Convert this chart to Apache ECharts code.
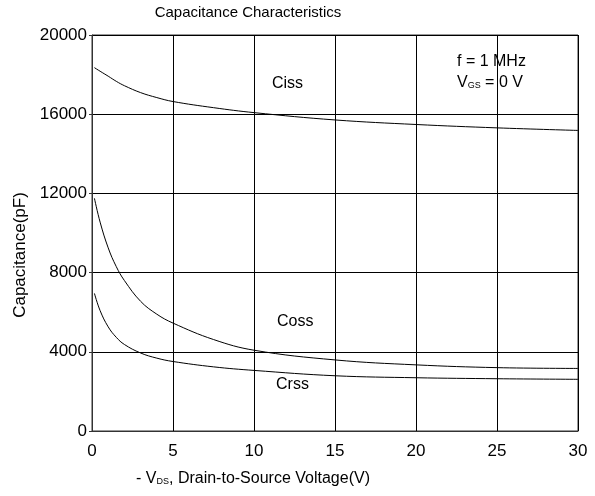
<!DOCTYPE html>
<html>
<head>
<meta charset="utf-8">
<script src="https://cdn.jsdelivr.net/npm/echarts@6/dist/echarts.min.js"></script>
<style>html,body{margin:0;padding:0;background:#fff;}#c{width:595px;height:496px;}</style>
</head>
<body>
<div id="c"></div>
<script>
// Data
const vds  = [0.15, 0.5, 1, 1.5, 2, 3, 4, 5, 7.5, 10, 15, 20, 25, 30];
const ciss = [18350, 18170, 17920, 17660, 17440, 17090, 16840, 16640, 16330, 16080, 15710, 15480, 15310, 15180];
const coss = [11750, 10550, 9250, 8300, 7600, 6550, 5900, 5450, 4620, 4080, 3590, 3340, 3200, 3160];
const crss = [6950, 6080, 5260, 4730, 4370, 3940, 3680, 3510, 3240, 3060, 2790, 2690, 2640, 2610];
const xTicks = [0, 5, 10, 15, 20, 25, 30];
const yTicks = [0, 4000, 8000, 12000, 16000, 20000];

const FONT = 'Liberation Sans';
const chart = echarts.init(document.getElementById('c'), null, {renderer: 'canvas'});
const mk = (name, ys) => ({
  name, type: 'line', smooth: 0.4, symbol: 'none',
  data: vds.map((x, i) => [x, ys[i]]),
  lineStyle: {color: '#000', width: 1}
});
chart.setOption({
  animation: false,
  backgroundColor: '#fff',
  grid: {left: 92, right: 17, top: 35, bottom: 65, show: true, borderColor: '#333', borderWidth: 1},
  xAxis: {
    type: 'value', min: xTicks[0], max: xTicks[xTicks.length - 1], interval: xTicks[1] - xTicks[0],
    axisLine: {show: true, lineStyle: {color: '#333', width: 1}},
    axisTick: {show: false},
    axisLabel: {color: '#000', fontFamily: FONT, fontSize: 17, margin: 12},
    splitLine: {show: true, lineStyle: {color: '#000', width: 1}}
  },
  yAxis: {
    type: 'value', min: yTicks[0], max: yTicks[yTicks.length - 1], interval: yTicks[1] - yTicks[0],
    axisLine: {show: true, lineStyle: {color: '#333', width: 1}},
    axisTick: {show: true, length: 3, lineStyle: {color: '#333'}},
    axisLabel: {color: '#000', fontFamily: FONT, fontSize: 17, margin: 5, formatter: v => String(v)},
    splitLine: {show: true, lineStyle: {color: '#000', width: 1}}
  },
  series: [mk('Ciss', ciss), mk('Coss', coss), mk('Crss', crss)],
  graphic: [
    {type: 'text', x: 248, y: 13, style: {text: 'Capacitance Characteristics', align: 'center', verticalAlign: 'middle', font: '15px ' + FONT, fill: '#000'}},
    {type: 'text', x: 20, y: 255, rotation: Math.PI / 2, style: {text: 'Capacitance(pF)', align: 'center', verticalAlign: 'middle', font: '17px ' + FONT, fill: '#000'}},
    {type: 'text', x: 253, y: 479, style: {
      text: '{n|- V}{s|DS}{n|, Drain-to-Source Voltage(V)}', align: 'center', verticalAlign: 'middle',
      rich: {n: {fontFamily: FONT, fontSize: 16, fill: '#000'}, s: {fontFamily: FONT, fontSize: 9, fill: '#000', padding: [6, 0, 0, 0]}}
    }},
    {type: 'text', x: 272, y: 84, style: {text: 'Ciss', verticalAlign: 'middle', font: '16px ' + FONT, fill: '#000'}},
    {type: 'text', x: 277, y: 322, style: {text: 'Coss', verticalAlign: 'middle', font: '16px ' + FONT, fill: '#000'}},
    {type: 'text', x: 276, y: 385, style: {text: 'Crss', verticalAlign: 'middle', font: '16px ' + FONT, fill: '#000'}},
    {type: 'text', x: 457, y: 62, style: {text: 'f = 1 MHz', verticalAlign: 'middle', font: '16px ' + FONT, fill: '#000'}},
    {type: 'text', x: 457, y: 83, style: {
      text: '{n|V}{s|GS}{n| = 0 V}', verticalAlign: 'middle',
      rich: {n: {fontFamily: FONT, fontSize: 16, fill: '#000'}, s: {fontFamily: FONT, fontSize: 9, fill: '#000', padding: [6, 0, 0, 0]}}
    }}
  ]
});
</script>
</body>
</html>
